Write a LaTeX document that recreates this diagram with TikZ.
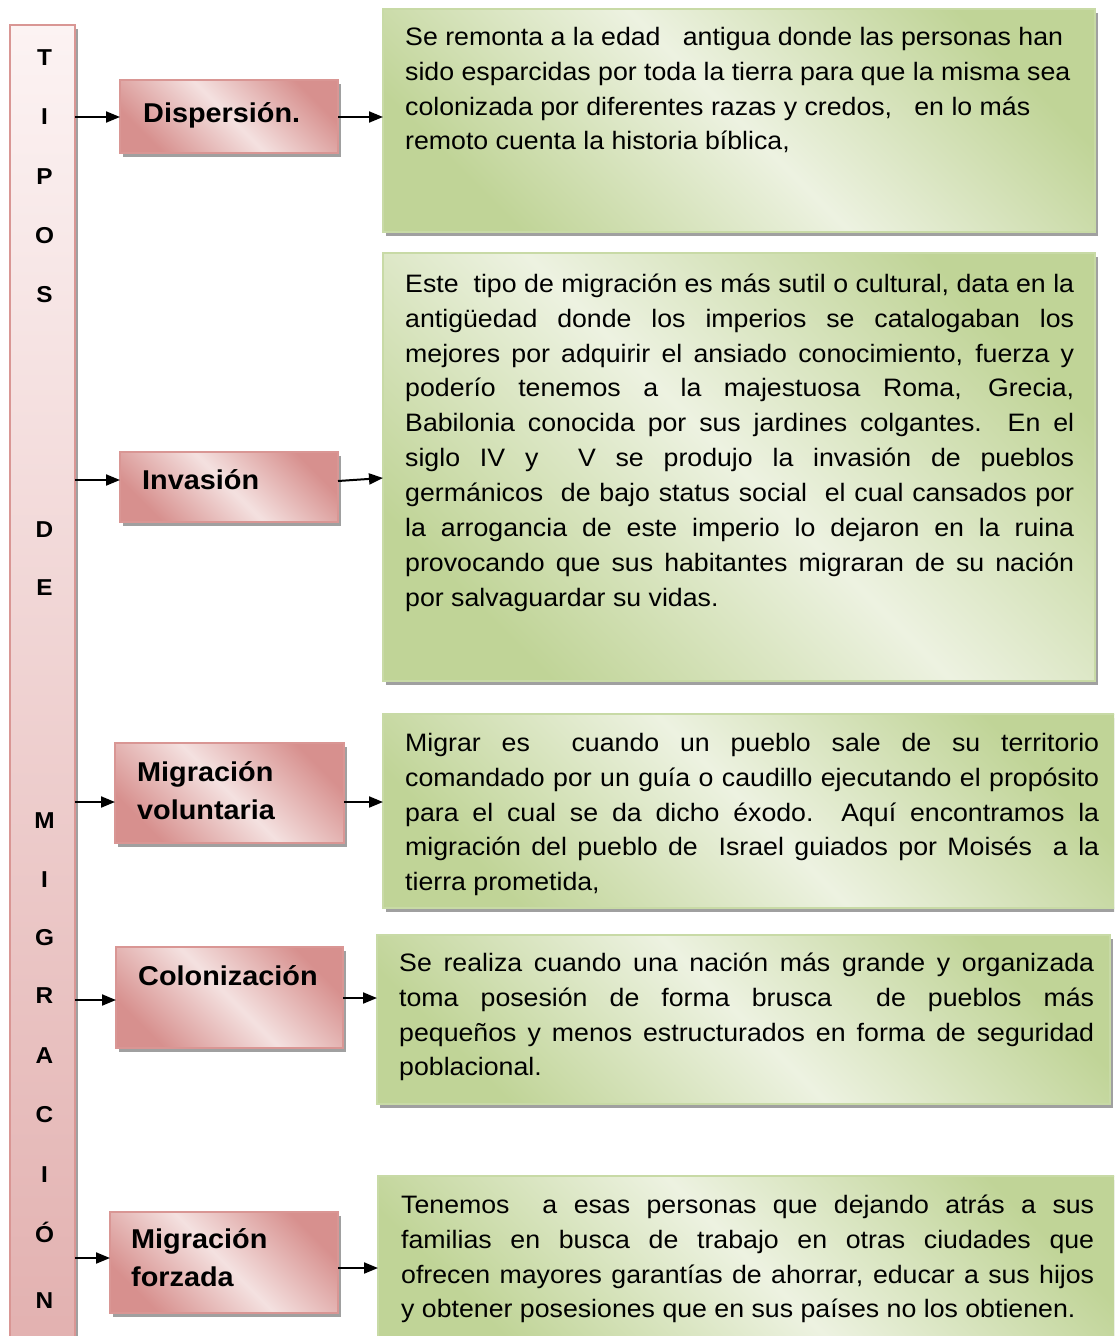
\documentclass[tikz,border=0pt]{standalone}
\usepackage{fontspec}
\setmainfont[FakeStretch=1.06]{Liberation Sans}
\usetikzlibrary{shadows,arrows.meta}

\definecolor{pinkdark}{HTML}{D7908E}
\definecolor{pinklight}{HTML}{F4E1E0}
\definecolor{pinkedge}{HTML}{D99694}
\definecolor{talltop}{HTML}{FCF3F3}
\definecolor{tallbottom}{HTML}{E2B0AF}
\definecolor{greendark}{HTML}{C0D497}
\definecolor{greenlight}{HTML}{EDF2E1}
\definecolor{greenedge}{HTML}{C8DAA6}
\definecolor{shadowgray}{HTML}{A0A0A0}

\newcommand\justline[2]{\makebox[#1][s]{#2}}

\tikzset{
  shad/.style={drop shadow={shadow xshift=3pt,shadow yshift=-4pt,fill=shadowgray,opacity=1}},
  pinkbox/.style={shad,draw=pinkedge,line width=1.5pt,top color=pinkdark,bottom color=pinkdark,middle color=pinklight,shading angle=-45,anchor=north west,inner sep=0pt,outer sep=0pt},
  greenbox/.style={shad,draw=greenedge,line width=1.5pt,top color=greendark,bottom color=greendark,middle color=greenlight,shading angle=-45,anchor=north west,inner sep=0pt,outer sep=0pt},
  tallbox/.style={shad,draw=pinkedge,line width=2pt,top color=talltop,bottom color=tallbottom,anchor=north west,inner sep=0pt,outer sep=0pt},
  body/.style={anchor=north west,inner sep=0pt,align=left,font=\fontsize{25.2}{34.9}\selectfont},
  boxlabel/.style={anchor=north west,inner sep=0pt,align=left,font=\fontsize{27.2}{38}\selectfont\bfseries},
  letter/.style={anchor=base,inner sep=0pt,font=\fontsize{23}{23}\selectfont\bfseries},
  arr/.style={line width=2pt,-{Triangle[length=14pt,width=11pt]}},
}

\begin{document}
\begin{tikzpicture}[x=1pt,y=-1pt]
\useasboundingbox (0,0) rectangle (1114,1336);
\fill[white] (0,0) rectangle (1114,1336);
\clip (0,0) rectangle (1114,1336);

% green description boxes
\node[greenbox,minimum width=712pt,minimum height=223pt] (g1) at (383,9) {};
\node[greenbox,minimum width=712pt,minimum height=428pt] (g2) at (383,253) {};
\node[greenbox,minimum width=740pt,minimum height=194pt] (g3) at (383,714) {};
\node[greenbox,minimum width=733pt,minimum height=169pt] (g4) at (377,935) {};
\node[greenbox,minimum width=745pt,minimum height=170pt] (g5) at (378,1176) {};

% pink type boxes
\node[pinkbox,minimum width=218pt,minimum height=73pt] (p1) at (120,80) {};
\node[pinkbox,minimum width=218pt,minimum height=70pt] (p2) at (120,452) {};
\node[pinkbox,minimum width=229pt,minimum height=100pt] (p3) at (115,743) {};
\node[pinkbox,minimum width=227pt,minimum height=101pt] (p4) at (116,947) {};
\node[pinkbox,minimum width=228pt,minimum height=101pt] (p5) at (110,1212) {};

% tall title box
\node[tallbox,minimum width=65pt,minimum height=1340pt] (tall) at (10,25) {};

% vertical title letters
\node[letter] (l1) at (44.5,65) {T};
\node[letter] (l2) at (44.5,124) {I};
\node[letter] (l3) at (44.5,184) {P};
\node[letter] (l4) at (44.5,243) {O};
\node[letter] (l5) at (44.5,302) {S};
\node[letter] (l6) at (44.5,537) {D};
\node[letter] (l7) at (44.5,595) {E};
\node[letter] (l8) at (44.5,828) {M};
\node[letter] (l9) at (44.5,887) {I};
\node[letter] (l10) at (44.5,945) {G};
\node[letter] (l11) at (44.5,1003) {R};
\node[letter] (l12) at (44.5,1063) {A};
\node[letter] (l13) at (44.5,1122) {C};
\node[letter] (l14) at (44.5,1182) {I};
\node[letter] (l15) at (44.5,1242) {Ó};
\node[letter] (l16) at (44.5,1308) {N};

% labels in pink boxes
\node[boxlabel] (lb1) at (143,95.5) {\rule{0pt}{27.2pt}Dispersión.};
\node[boxlabel] (lb2) at (142,462) {\rule{0pt}{27.2pt}Invasión};
\node[boxlabel] (lb3) at (137,754) {\rule{0pt}{27.2pt}Migración\\voluntaria};
\node[boxlabel] (lb4) at (138,958) {\rule{0pt}{27.2pt}Colonización};
\node[boxlabel] (lb5) at (131,1221) {\rule{0pt}{27.2pt}Migración\\forzada};

% texts in green boxes
\node[body] (t1) at (405,19.8) {\rule{0pt}{25.2pt}Se remonta a la edad\ \ \ antigua donde las personas han\\
sido esparcidas por toda la tierra para que la misma sea\\
colonizada por diferentes razas y credos,\ \ \ en lo más\\
remoto cuenta la historia bíblica,};

\node[body] (t2) at (405,266.8) {\justline{669pt}{\rule{0pt}{25.2pt}Este\ \ tipo de migración es más sutil o cultural, data en la}\\
\justline{669pt}{antigüedad donde los imperios se catalogaban los}\\
\justline{669pt}{mejores por adquirir el ansiado conocimiento, fuerza y}\\
\justline{669pt}{poderío tenemos a la majestuosa Roma, Grecia,}\\
\justline{669pt}{Babilonia conocida por sus jardines colgantes.\ \ En el}\\
\justline{669pt}{siglo IV y\ \ V se produjo la invasión de pueblos}\\
\justline{669pt}{germánicos\ \ de bajo status social\ \ el cual cansados por}\\
\justline{669pt}{la arrogancia de este imperio lo dejaron en la ruina}\\
\justline{669pt}{provocando que sus habitantes migraran de su nación}\\
por salvaguardar su vidas.};

\node[body] (t3) at (405,725.8) {\justline{694pt}{\rule{0pt}{25.2pt}Migrar es\ \ cuando un pueblo sale de su territorio}\\
\justline{694pt}{comandado por un guía o caudillo ejecutando el propósito}\\
\justline{694pt}{para el cual se da dicho éxodo.\ \ Aquí encontramos la}\\
\justline{694pt}{migración del pueblo de\ \ Israel guiados por Moisés\ \ a la}\\
tierra prometida,};

\node[body] (t4) at (399,945.8) {\justline{695pt}{\rule{0pt}{25.2pt}Se realiza cuando una nación más grande y organizada}\\
\justline{695pt}{toma posesión de forma brusca\ \ de pueblos más}\\
\justline{695pt}{pequeños y menos estructurados en forma de seguridad}\\
poblacional.};

\node[body] (t5) at (401,1187.8) {\justline{693pt}{\rule{0pt}{25.2pt}Tenemos\ \ a esas personas que dejando atrás a sus}\\
\justline{693pt}{familias en busca de trabajo en otras ciudades que}\\
\justline{693pt}{ofrecen mayores garantías de ahorrar, educar a sus hijos}\\
y obtener posesiones que en sus países no los obtienen.};

% arrow levels
\coordinate (a1) at (0,117);
\coordinate (a2) at (0,480);
\coordinate (a2r) at (0,481);
\coordinate (a2s) at (0,478);
\coordinate (a3) at (0,802);
\coordinate (a4) at (0,1000);
\coordinate (a4r) at (0,998);
\coordinate (a5) at (0,1258);
\coordinate (a5r) at (0,1268);

% connectors
\draw[arr] (tall.east |- a1) -- (p1.west |- a1);
\draw[arr] (p1.east |- a1) -- (g1.west |- a1);
\draw[arr] (tall.east |- a2) -- (p2.west |- a2);
\draw[arr] (p2.east |- a2r) -- (g2.west |- a2s);
\draw[arr] (tall.east |- a3) -- (p3.west |- a3);
\draw[arr] (p3.east |- a3) -- (g3.west |- a3);
\draw[arr] (tall.east |- a4) -- (p4.west |- a4);
\draw[arr] (p4.east |- a4r) -- (g4.west |- a4r);
\draw[arr] (tall.east |- a5) -- (p5.west |- a5);
\draw[arr] (p5.east |- a5r) -- (g5.west |- a5r);
\end{tikzpicture}
\end{document}
